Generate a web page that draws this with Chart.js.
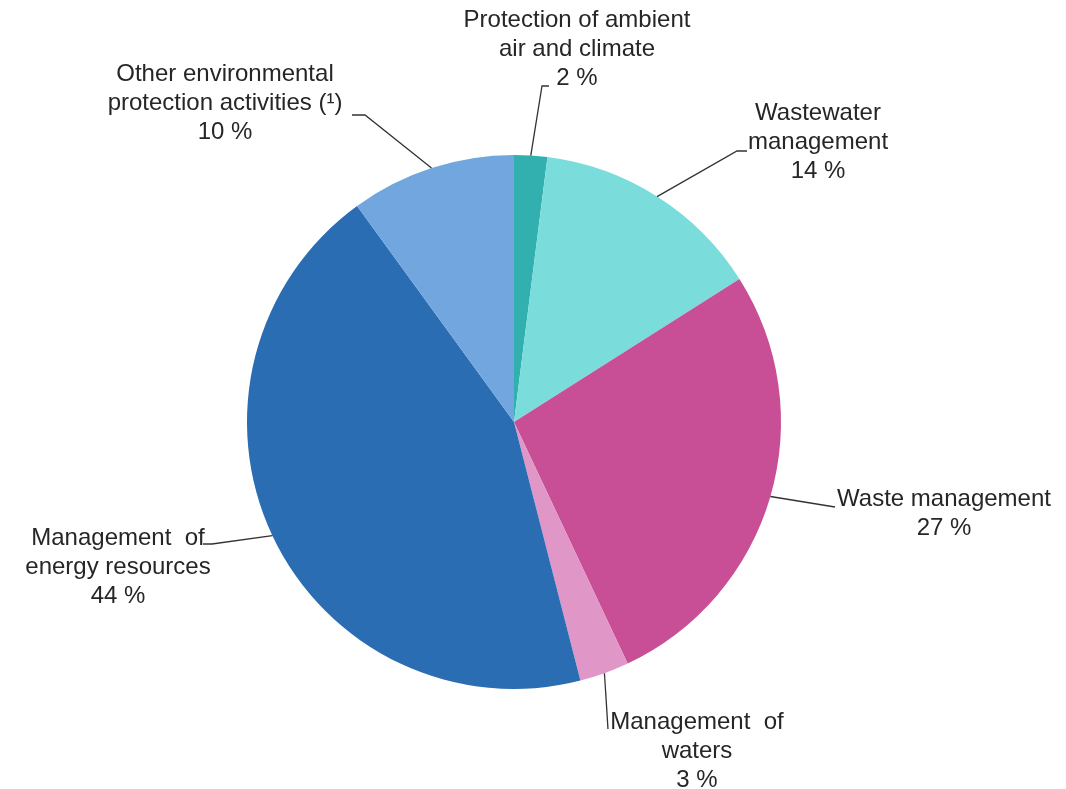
<!DOCTYPE html>
<html lang="en">
<head>
    <meta charset="UTF-8">
    <title>Environmental protection expenditure by domain</title>
    <script src="https://cdn.jsdelivr.net/npm/chart.js"></script>
    <style>
        html, body { margin: 0; padding: 0; background: #fff; }
        #wrap { width: 1066px; height: 789px; }
    </style>
</head>
<body>
    <div id="wrap"><canvas id="pieChart" width="1066" height="789"></canvas></div>

    <script>
        // Domains, clockwise from 12 o'clock
        const domains = [
            ['Protection of ambient', 'air and climate'],
            ['Wastewater', 'management'],
            ['Waste management'],
            ['Management  of', 'waters'],
            ['Management  of', 'energy resources'],
            ['Other environmental', 'protection activities (\u00b9)']
        ];
        const shares = [2, 14, 27, 3, 44, 10];
        const sliceColors = ['#32afaf', '#7bdcdc', '#c84f96', '#e096c6', '#2a6db3', '#72a6de'];

        // Label placement relative to the pie centre: text block centre (tx, ty),
        // leader elbow (ex, ey) and end of the short horizontal tick (hx).
        const labelLayout = [
            { tx: 63, ty: -373, ex: 28, ey: -336, hx: 35 },
            { tx: 304, ty: -280, ex: 223, ey: -271, hx: 233 },
            { tx: 430, ty: 92, ex: 321, ey: 85, hx: 321 },
            { tx: 183, ty: 329, ex: 94, ey: 307, hx: 94 },
            { tx: -396, ty: 145, ex: -302, ey: 122, hx: -311 },
            { tx: -289, ty: -319, ex: -149, ey: -307, hx: -162 }
        ];

        const leaderLabels = {
            id: 'leaderLabels',
            afterDraw(chart) {
                const ctx = chart.ctx;
                const arcs = chart.getDatasetMeta(0).data;
                ctx.save();
                ctx.font = '24px "Liberation Sans", Arial, sans-serif';
                ctx.textAlign = 'center';
                ctx.textBaseline = 'middle';
                arcs.forEach((arc, i) => {
                    const p = arc.getProps(['x', 'y', 'startAngle', 'endAngle', 'outerRadius']);
                    const mid = (p.startAngle + p.endAngle) / 2;
                    const sx = p.x + Math.cos(mid) * p.outerRadius;
                    const sy = p.y + Math.sin(mid) * p.outerRadius;
                    const L = labelLayout[i];

                    // leader line: slice edge -> elbow -> short horizontal tick
                    ctx.strokeStyle = '#333';
                    ctx.lineWidth = 1.3;
                    ctx.beginPath();
                    ctx.moveTo(sx, sy);
                    ctx.lineTo(p.x + L.ex, p.y + L.ey);
                    ctx.lineTo(p.x + L.hx, p.y + L.ey);
                    ctx.stroke();

                    const lines = domains[i].concat([shares[i] + ' %']);
                    const lh = 29;
                    const top = p.y + L.ty - (lines.length - 1) * lh / 2;
                    ctx.fillStyle = '#262626';
                    lines.forEach((t, k) => {
                        ctx.fillText(t, p.x + L.tx, top + k * lh);
                    });
                });
                ctx.restore();
            }
        };

        new Chart(document.getElementById('pieChart'), {
            type: 'pie',
            data: {
                labels: domains.map(d => d.join(' ')),
                datasets: [{
                    data: shares,
                    backgroundColor: sliceColors,
                    borderWidth: 0
                }]
            },
            options: {
                responsive: false,
                animation: false,
                layout: { padding: { top: 155, bottom: 100, left: 247, right: 285 } },
                plugins: {
                    legend: { display: false },
                    tooltip: { enabled: false }
                }
            },
            plugins: [leaderLabels]
        });
    </script>
</body>
</html>
